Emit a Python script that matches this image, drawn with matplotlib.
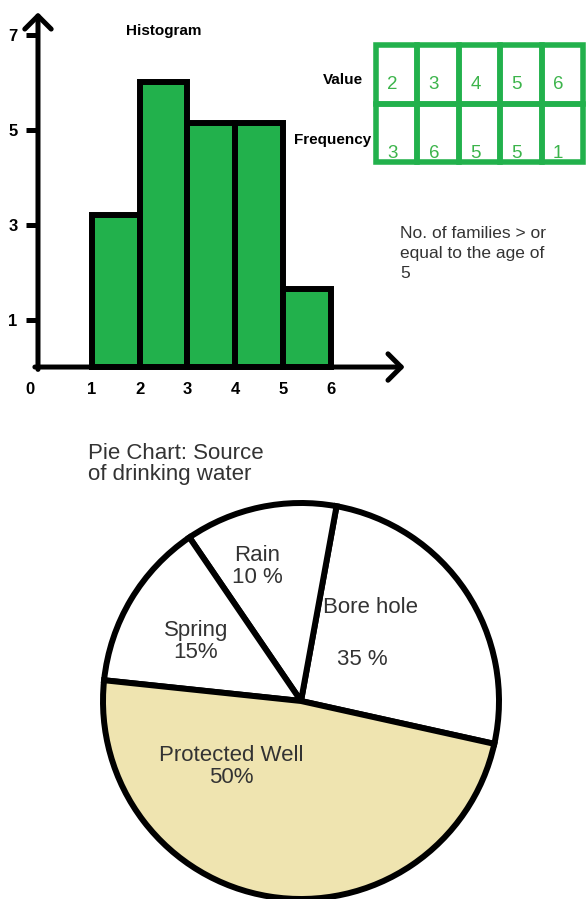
import matplotlib
matplotlib.use('Agg')
import matplotlib.pyplot as plt
import matplotlib.transforms as mtrans
from matplotlib.patches import Rectangle

W, H = 587, 899

# histogram data (bar heights)
bin_edges = [1, 2, 3, 4, 5, 6]
bar_heights = [3.2, 6.0, 5.15, 5.15, 1.65]
y_ticks = [1, 3, 5, 7]
x_ticks = [0, 1, 2, 3, 4, 5, 6]

# frequency table
table_values = [2, 3, 4, 5, 6]
table_freqs = [3, 6, 5, 5, 1]

# pie chart (wedge sizes as drawn, labels as written)
pie_names = ['Bore hole', 'Rain', 'Spring', 'Protected Well']
pie_sizes = [25.6, 12.4, 13.8, 48.2]
pie_colors = ['white', 'white', 'white', '#efe4b0']

green = '#22b14c'
txtgrey = '#333333'
plt.rcParams['font.family'] = ['Liberation Sans', 'DejaVu Sans']


def rect(x0, y0, x1, y1):
	return [x0/W, 1-y1/H, (x1-x0)/W, (y1-y0)/H]


fig = plt.figure(figsize=(W/100, H/100), dpi=100)

#histogram
ax = fig.add_axes(rect(0, 0, 420, 410))
ax.set_xlim(-0.92, 7.87)
ax.set_ylim(-0.905, 7.73)
ax.bar(bin_edges[:-1], bar_heights, width=1, align='edge', color=green,
	edgecolor='black', linewidth=4.3, zorder=2)
for s in ax.spines.values():
	s.set_visible(False)
ax.spines['left'].set_position(('data', -0.125))
ax.spines['bottom'].set_position(('data', 0))
arrow = dict(arrowstyle='->, head_length=0.5, head_width=0.5', lw=3.6,
	mutation_scale=19, shrinkA=0, shrinkB=0, color='black')
ax.annotate('', xy=(-0.125, 7.47), xytext=(-0.125, -0.05), arrowprops=arrow, zorder=3)
ax.annotate('', xy=(7.55, 0), xytext=(-0.19, 0), arrowprops=arrow, zorder=3)
ax.set_yticks(y_ticks)
ax.set_yticklabels([str(t) for t in y_ticks], fontweight='bold', fontsize=12)
ax.tick_params(axis='y', length=8.6, width=3.6, pad=6)
ax.set_xticks(x_ticks)
ax.set_xticklabels([str(t) for t in x_ticks], fontweight='bold', fontsize=12)
ax.tick_params(axis='x', length=0, pad=11)
lbl0 = ax.get_xticklabels()[0]
lbl0.set_transform(lbl0.get_transform() + mtrans.ScaledTranslation(-0.14, 0, fig.dpi_scale_trans))
ax.set_title('Histogram', fontweight='bold', fontsize=11, x=0.39, y=0.895)
ax.patch.set_alpha(0)

#table of values
tx = fig.add_axes(rect(376, 45, 583, 162))
tx.set_xlim(0, 5)
tx.set_ylim(0, 2)
tx.axis('off')
for i in range(len(table_values)):
	for row in range(2):
		tx.add_patch(Rectangle((i, row), 1, 1, fill=False, edgecolor=green,
			linewidth=4, clip_on=False, zorder=3))
	tx.text(i+0.4, 1.33, str(table_values[i]), color='#3cb44b', fontsize=13.5,
		ha='center', va='center', zorder=2)
	tx.text(i+0.4, 0.14, str(table_freqs[i]), color='#3cb44b', fontsize=13.5,
		ha='center', va='center', zorder=2)
tx.text(-0.31, 1.4, 'Value', fontweight='bold', fontsize=11, ha='right', va='center')
tx.text(-0.12, 0.38, 'Frequency', fontweight='bold', fontsize=11, ha='right', va='center')

fig.text(400/W, 1-226/H, 'No. of families > or\nequal to the age of\n5',
	fontsize=12.5, color=txtgrey, ha='left', va='top', linespacing=1.4)

#pie chart
px = fig.add_axes(rect(91, 491, 511, 911))
px.pie(pie_sizes, colors=pie_colors, startangle=-12.5, counterclock=True,
	wedgeprops=dict(edgecolor='black', linewidth=4.3))
px.set_xlim(-1.0606, 1.0606)
px.set_ylim(-1.0606, 1.0606)
px.set_aspect('equal')
px.axis('off')
lab = dict(fontsize=16, color=txtgrey, ha='center', va='center', linespacing=1.05)
px.text(-0.22, 0.68, 'Rain\n10 %', **lab)
px.text(-0.53, 0.30, 'Spring\n15%', **lab)
px.text(0.35, 0.47, 'Bore hole', **lab)
px.text(0.31, 0.21, '35 %', **lab)
px.text(-0.35, -0.33, 'Protected Well\n50%', **lab)

fig.text(88/W, 1-443/H, 'Pie Chart: Source\nof drinking water', fontsize=16,
	color=txtgrey, ha='left', va='top', linespacing=1.0)

fig.savefig('out.png', dpi=100)
